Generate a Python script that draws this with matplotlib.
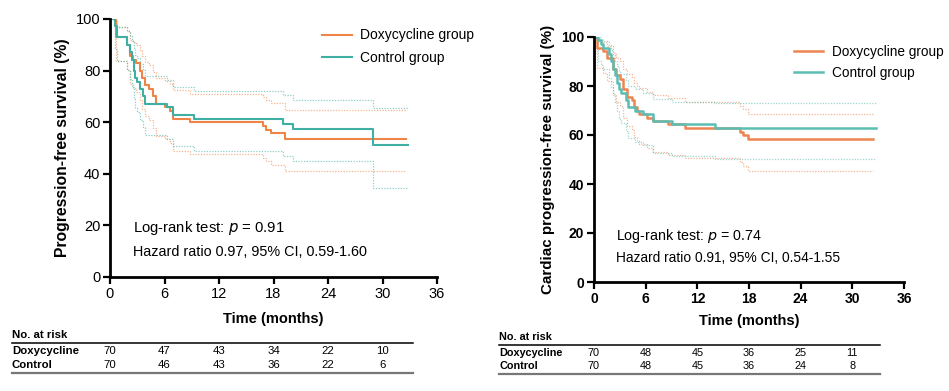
import matplotlib
matplotlib.use("Agg")
import matplotlib.pyplot as plt
from matplotlib.lines import Line2D
from matplotlib import transforms

plt.rcParams['font.family'] = ['Liberation Sans', 'DejaVu Sans']

# ---------------- data ----------------
# Left: progression-free survival
pfs_doxy_t = [0, 0.7, 1.9, 2.2, 2.5, 2.9, 3.3, 3.5, 3.8, 4.3, 4.7, 5.1, 6.0, 6.6, 6.9, 8.8, 16.8, 17.2, 17.7, 19.3, 32.6]
pfs_doxy_s = [100, 92.9, 90.0, 85.7, 84.3, 82.9, 80.0, 77.1, 74.3, 72.9, 70.0, 67.1, 65.7, 64.3, 61.4, 60.0, 58.6, 57.1, 55.7, 53.6, 53.6]
pfs_doxy_up = [100, 97.0, 95.3, 92.0, 91.0, 90.0, 87.8, 85.5, 83.3, 82.0, 79.6, 77.2, 76.0, 74.8, 72.3, 71.0, 69.8, 68.5, 67.3, 64.8, 64.8]
pfs_doxy_lo = [100, 83.8, 80.2, 75.0, 73.3, 71.6, 68.5, 65.2, 62.3, 60.8, 57.8, 54.8, 53.3, 52.0, 49.0, 47.8, 46.3, 44.8, 43.3, 41.0, 41.0]

pfs_ctrl_t = [0, 0.5, 0.8, 1.9, 2.2, 2.4, 2.6, 2.8, 3.0, 3.3, 3.6, 3.9, 6.3, 6.9, 9.2, 19.0, 20.2, 29.0, 32.8]
pfs_ctrl_s = [100, 97.1, 92.9, 90.0, 87.1, 84.3, 80.0, 77.1, 75.7, 72.9, 70.0, 67.1, 65.7, 62.9, 61.4, 59.4, 57.3, 51.0, 51.0]
pfs_ctrl_up = [100, 99.3, 97.0, 95.3, 93.5, 91.5, 88.3, 86.0, 85.0, 82.6, 80.3, 77.8, 76.5, 73.5, 72.0, 70.5, 68.5, 65.4, 65.4]
pfs_ctrl_lo = [100, 88.3, 83.8, 80.2, 76.8, 73.5, 68.8, 65.5, 64.0, 61.0, 58.0, 55.0, 53.5, 50.6, 49.0, 47.0, 44.8, 34.5, 34.5]

# Right: cardiac progression-free survival
cpfs_doxy_t = [0, 0.4, 1.0, 1.5, 2.25, 2.6, 3.0, 3.4, 3.8, 4.4, 4.6, 5.0, 5.2, 6.1, 6.9, 8.6, 10.6, 16.9, 17.3, 17.85, 32.4]
cpfs_doxy_s = [100, 95.7, 94.3, 91.4, 87.1, 84.3, 82.9, 78.6, 75.7, 74.3, 71.4, 70.0, 68.6, 67.1, 65.7, 64.3, 62.9, 61.4, 60.0, 58.3, 58.3]
cpfs_doxy_up = [100, 98.5, 97.8, 96.2, 93.3, 91.3, 90.3, 87.0, 84.7, 83.5, 81.3, 80.1, 79.0, 77.6, 76.4, 75.2, 73.3, 72.0, 70.7, 68.6, 68.6]
cpfs_doxy_lo = [100, 87.3, 85.4, 82.0, 76.8, 73.4, 71.8, 67.0, 63.7, 62.2, 59.2, 57.7, 56.2, 54.6, 53.2, 51.8, 50.6, 49.0, 47.4, 45.5, 45.5]

cpfs_ctrl_t = [0, 0.45, 0.8, 1.1, 1.7, 2.0, 2.25, 2.45, 2.65, 2.85, 3.1, 3.7, 4.0, 4.8, 5.7, 6.8, 9.0, 14.0, 32.75]
cpfs_ctrl_s = [100, 98.6, 97.1, 95.7, 92.9, 90.0, 87.1, 84.3, 81.4, 78.6, 77.1, 74.3, 71.4, 70.0, 68.6, 65.7, 64.3, 62.9, 62.9]
cpfs_ctrl_up = [100, 99.8, 99.2, 98.4, 96.6, 94.6, 92.5, 90.4, 88.2, 85.9, 84.7, 82.3, 79.8, 78.6, 77.3, 74.7, 73.5, 73.0, 73.0]
cpfs_ctrl_lo = [100, 90.3, 88.7, 86.9, 83.3, 79.7, 76.3, 73.0, 69.6, 66.5, 64.9, 61.8, 58.8, 57.3, 55.8, 52.8, 51.4, 50.3, 50.3]

risk_times = [0, 6, 12, 18, 24, 30]
pfs_risk_doxy = [70, 47, 43, 34, 22, 10]
pfs_risk_ctrl = [70, 46, 43, 36, 22, 6]
cpfs_risk_doxy = [70, 48, 45, 36, 25, 11]
cpfs_risk_ctrl = [70, 48, 45, 36, 24, 8]

x_ticks = [0, 6, 12, 18, 24, 30, 36]
y_ticks = [0, 20, 40, 60, 80, 100]
series_labels = ["Doxycycline group", "Control group"]
row_labels = ["Doxycycline", "Control"]

ORANGE = '#EE8446'
TEAL = '#3FAFA3'
ORANGE_R = '#EC8552'
TEAL_R = '#5CBDB3'

W, H = 949, 391
fig = plt.figure(figsize=(W / 100, H / 100), dpi=100)


def px_axes(x0, y0, x1, y1):
    return fig.add_axes([x0 / W, 1 - y1 / H, (x1 - x0) / W, (y1 - y0) / H])


def draw_panel(ax, curves, ylabel, bold_ticks, lw, tick_fs, ylab_fs, xlab_pad,
               leg_pos, leg_fs, leg_sp, ann_pos, ann_lines, ann_fs):
    for t, s, up, lo, c in curves:
        ax.step(t, up, where='post', color=c, lw=0.9, ls=(0, (1, 1.2)), alpha=0.6)
        ax.step(t, lo, where='post', color=c, lw=0.9, ls=(0, (1, 1.2)), alpha=0.6)
    handles = []
    for t, s, up, lo, c in curves:
        h, = ax.step(t, s, where='post', color=c, lw=lw)
        handles.append(h)
    ax.set_xlim(0, 36)
    ax.set_ylim(0, 100)
    ax.set_xticks(x_ticks)
    ax.set_yticks(y_ticks)
    for sp in ['top', 'right']:
        ax.spines[sp].set_visible(False)
    for sp in ['left', 'bottom']:
        ax.spines[sp].set_linewidth(2.0)
    ax.tick_params(direction='out', length=5, width=1.6, labelsize=tick_fs, pad=2)
    if bold_ticks:
        for lab in ax.get_xticklabels() + ax.get_yticklabels():
            lab.set_fontweight('bold')
    ax.set_ylabel(ylabel, fontsize=ylab_fs, fontweight='bold', labelpad=4)
    ax.set_xlabel("Time (months)", fontsize=10.5, fontweight='bold', labelpad=xlab_pad)
    ax.legend(handles, series_labels, loc='upper left', bbox_to_anchor=leg_pos,
              frameon=False, fontsize=leg_fs, handlelength=2.2, handletextpad=0.6,
              labelspacing=leg_sp, borderaxespad=0)
    ax.text(ann_pos[0], ann_pos[1], ann_lines[0], transform=ax.transAxes, fontsize=ann_fs[0],
            va='center', ha='left')
    ax.text(ann_pos[0], ann_pos[2], ann_lines[1], transform=ax.transAxes, fontsize=ann_fs[1],
            va='center', ha='left')
    return ax


axL = px_axes(110, 19, 437, 277)
draw_panel(axL,
           [(pfs_doxy_t, pfs_doxy_s, pfs_doxy_up, pfs_doxy_lo, ORANGE),
            (pfs_ctrl_t, pfs_ctrl_s, pfs_ctrl_up, pfs_ctrl_lo, TEAL)],
           "Progression-free survival (%)", False, 1.5, 10.5, 11.3, 8,
           (0.63, 0.985), 10.0, 0.6, (0.07, 0.19, 0.097),
           ["Log-rank test: $\\it{p}$ = 0.91", "Hazard ratio 0.97, 95% CI, 0.59-1.60"], (10.7, 10.4))

axR = px_axes(594, 37, 904, 282)
draw_panel(axR,
           [(cpfs_doxy_t, cpfs_doxy_s, cpfs_doxy_up, cpfs_doxy_lo, ORANGE_R),
            (cpfs_ctrl_t, cpfs_ctrl_s, cpfs_ctrl_up, cpfs_ctrl_lo, TEAL_R)],
           "Cardiac progression-free survival (%)", True, 1.8, 10, 10.9, 6,
           (0.626, 0.99), 9.8, 0.5, (0.07, 0.188, 0.096),
           ["Log-rank test: $\\it{p}$ = 0.74", "Hazard ratio 0.91, 95% CI, 0.54-1.55"], (10.3, 9.9))


def risk_table(ax, x_left, x_right, y_head, y_line1, y_r1, y_r2, y_line2, d_vals, c_vals, fs):
    def fy(y):
        return 1 - y / H
    fig.text(x_left / W, fy(y_head), "No. at risk", fontsize=fs, fontweight='bold', va='center', ha='left')
    fig.text(x_left / W, fy(y_r1), row_labels[0], fontsize=fs, fontweight='bold', va='center', ha='left')
    fig.text(x_left / W, fy(y_r2), row_labels[1], fontsize=fs, fontweight='bold', va='center', ha='left')
    fig.add_artist(Line2D([x_left / W, x_right / W], [fy(y_line1)] * 2, color='black', lw=1.1))
    fig.add_artist(Line2D([x_left / W, x_right / W], [fy(y_line2)] * 2, color='#777777', lw=1.6))
    tr = transforms.blended_transform_factory(ax.transData, fig.transFigure)
    for t, dv, cv in zip(risk_times, d_vals, c_vals):
        fig.text(t, fy(y_r1), str(dv), transform=tr, fontsize=fs, va='center', ha='center')
        fig.text(t, fy(y_r2), str(cv), transform=tr, fontsize=fs, va='center', ha='center')


risk_table(axL, 12, 413, 335, 342.5, 350.5, 365, 372.5, pfs_risk_doxy, pfs_risk_ctrl, 8.2)
risk_table(axR, 499, 880, 337, 344.5, 352.5, 366, 373.5, cpfs_risk_doxy, cpfs_risk_ctrl, 7.8)

fig.savefig("out.png", dpi=100)
